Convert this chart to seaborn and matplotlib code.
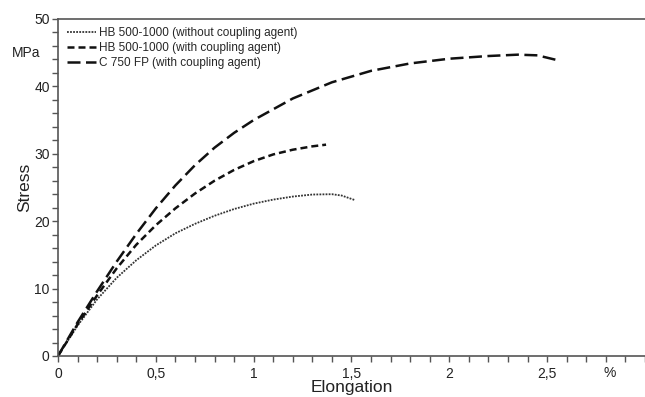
import matplotlib
matplotlib.use("Agg")
import matplotlib.pyplot as plt
import seaborn as sns
import pandas as pd
from matplotlib.ticker import MultipleLocator, FixedLocator

# curves (elongation in %, stress in MPa)
hb_plain_x = [0, 0.1, 0.2, 0.3, 0.4, 0.5, 0.6, 0.7, 0.8, 0.9, 1.0, 1.1, 1.2, 1.3, 1.4, 1.45, 1.52]
hb_plain_y = [0, 4.5, 8.4, 11.6, 14.2, 16.4, 18.2, 19.6, 20.8, 21.8, 22.6, 23.2, 23.65, 23.95, 24.0, 23.8, 23.1]

hb_coup_x = [0, 0.1, 0.2, 0.3, 0.4, 0.5, 0.6, 0.7, 0.8, 0.9, 1.0, 1.1, 1.2, 1.3, 1.37]
hb_coup_y = [0, 4.7, 9.0, 13.0, 16.5, 19.4, 21.9, 24.1, 26.0, 27.6, 28.9, 29.9, 30.6, 31.1, 31.35]

c750_x = [0, 0.1, 0.2, 0.3, 0.4, 0.5, 0.6, 0.7, 0.8, 0.9, 1.0, 1.2, 1.4, 1.6, 1.8, 2.0, 2.2, 2.35, 2.45, 2.55]
c750_y = [0, 5.0, 9.6, 14.0, 18.1, 21.9, 25.3, 28.3, 30.9, 33.1, 35.0, 38.2, 40.6, 42.3, 43.4, 44.1, 44.5, 44.7, 44.6, 43.9]

labels = ["HB 500-1000 (without coupling agent)",
          "HB 500-1000 (with coupling agent)",
          "C 750 FP (with coupling agent)"]

x_ticks = [0, 0.5, 1, 1.5, 2, 2.5]
x_tick_labels = ["0", "0,5", "1", "1,5", "2", "2,5"]
y_ticks = [0, 10, 20, 30, 40, 50]

sns.set_style("white")
plt.rcParams["font.family"] = ["Liberation Sans", "DejaVu Sans"]

fig = plt.figure(figsize=(6.45, 3.97), dpi=100)
ax = fig.add_axes([0.0899, 0.1033, 0.9101, 0.849])

styles = [
    dict(color="#333333", linewidth=1.3, dashes=(1, 0.7)),
    dict(color="#111111", linewidth=1.8, dashes=(2.8, 1.6)),
    dict(color="#111111", linewidth=1.8, dashes=(5.2, 2.2)),
]
series = [(hb_plain_x, hb_plain_y), (hb_coup_x, hb_coup_y), (c750_x, c750_y)]

for (xs, ys), lab, st in zip(series, labels, styles):
    df = pd.DataFrame({"Elongation": xs, "Stress": ys})
    sns.lineplot(data=df, x="Elongation", y="Stress", sort=False,
                 ax=ax, label=lab, color=st["color"], linewidth=st["linewidth"])
    ax.lines[-1].set_dashes(st["dashes"])

ax.set_xlim(0, 3.0)
ax.set_ylim(0, 50)

ax.xaxis.set_major_locator(FixedLocator(x_ticks))
ax.set_xticklabels(x_tick_labels)
ax.xaxis.set_minor_locator(MultipleLocator(0.1))
ax.yaxis.set_major_locator(FixedLocator(y_ticks))
ax.yaxis.set_minor_locator(MultipleLocator(2))

ax.tick_params(which="both", direction="out", length=4, width=1, color="#555555",
               labelsize=10, labelcolor="#222222", bottom=True, left=True)
ax.tick_params(axis="x", pad=4)
ax.tick_params(axis="y", pad=2)

for side in ["left", "bottom", "top"]:
    ax.spines[side].set_color("#555555")
    ax.spines[side].set_linewidth(1.2)
ax.spines["right"].set_visible(False)

ax.text(-0.03, 45, "MPa", transform=ax.get_yaxis_transform(), ha="right", va="center",
        fontsize=10, color="#222222")
ax.text(2.82, -0.03, "%", transform=ax.get_xaxis_transform(), ha="center", va="top",
        fontsize=10, color="#222222")

ax.set_xlabel("Elongation", fontsize=12.5, labelpad=-1, color="#222222")
ax.set_ylabel("Stress", fontsize=12.5, labelpad=1, color="#222222")

leg = ax.legend(loc="upper left", bbox_to_anchor=(0.015, 0.975), frameon=False,
                fontsize=8.5, handlelength=2.5, handletextpad=0.25,
                labelspacing=0.25, borderpad=0, borderaxespad=0)
for h, st in zip(leg.get_lines(), styles):
    h.set_dashes(st["dashes"])

fig.savefig("out.png", dpi=100)
